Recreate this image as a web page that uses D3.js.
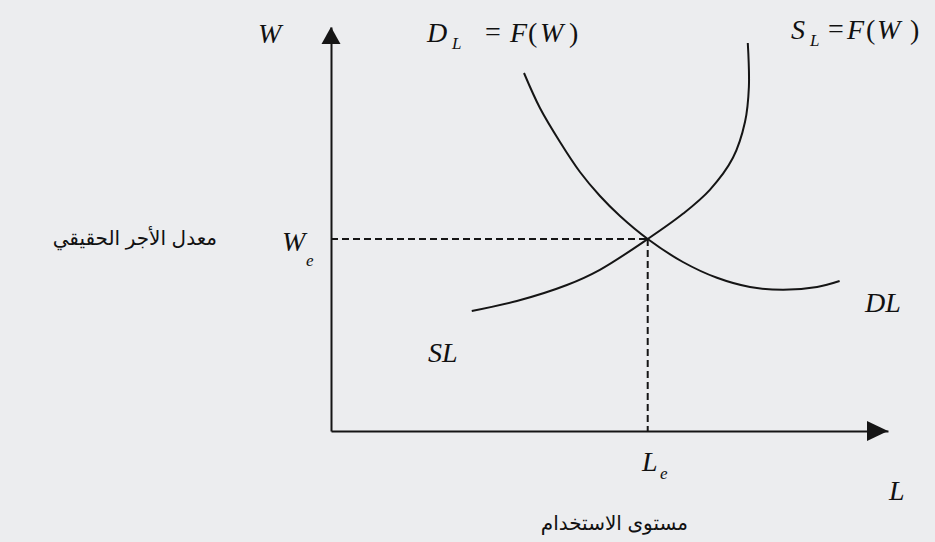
<!DOCTYPE html>
<html>
<head>
<meta charset="utf-8">
<script src="https://cdn.jsdelivr.net/npm/d3@7"></script>
<style>
  html, body { margin: 0; padding: 0; background: #ecedef; }
  svg { display: block; }
  .m { font-family: "Liberation Serif", "Times New Roman", serif; font-style: italic; fill: #111; }
  .u { font-family: "Liberation Serif", "Times New Roman", serif; fill: #111; }
  .ar { font-family: Arial, "DejaVu Sans", sans-serif; fill: #111; }
</style>
</head>
<body>
<svg id="chart" width="935" height="542"></svg>
<script>
// ---- data (L = employment level, W = real wage, arbitrary units) ----
const demandL = [35.1, 38.0, 41.65, 45.28, 48.92, 52.56, 57.6, 64.0, 70.2, 76.2, 82.2, 88.4, 92.5];
const demandW = [89.5, 80.75, 72.25, 64.75, 58.75, 53.75, 48.0, 42.25, 38.3, 36.0, 35.3, 36.0, 37.5];
const supplyL = [25.6, 33.8, 42.9, 48.9, 57.6, 64.0, 68.9, 73.1, 75.3, 76.0, 75.8];
const supplyW = [30.0, 32.5, 36.5, 40.3, 48.0, 54.3, 60.3, 68.3, 77.3, 86.0, 97.0];
const equilibrium = { L: 57.6, W: 48.0 };
const domainL = [0, 101.3];
const domainW = [0, 101];

const svg = d3.select("#chart");
const x = d3.scaleLinear().domain(domainL).range([331, 888]);
const y = d3.scaleLinear().domain(domainW).range([431, 27]);

// axes (no ticks)
svg.append("g").attr("transform", `translate(0,${y(0)})`)
  .call(d3.axisBottom(x).tickValues([]).tickSizeOuter(0));
svg.append("g").attr("transform", `translate(${x(0)},0)`)
  .call(d3.axisLeft(y).tickValues([]).tickSizeOuter(0));
svg.selectAll(".domain").attr("stroke", "#151515").attr("stroke-width", 2);

// arrowheads
const xe = x(domainL[1]), ye = y(domainW[1]);
svg.append("path")
  .attr("d", `M${xe},${y(0)} L${xe - 21},${y(0) - 10} L${xe - 21},${y(0) + 10} Z`)
  .attr("fill", "#151515");
svg.append("path")
  .attr("d", `M${x(0)},${ye} L${x(0) - 9.5},${ye + 17} L${x(0) + 9.5},${ye + 17} Z`)
  .attr("fill", "#151515");

// dashed guides
svg.append("line")
  .attr("x1", x(0)).attr("y1", y(equilibrium.W))
  .attr("x2", x(equilibrium.L)).attr("y2", y(equilibrium.W))
  .attr("stroke", "#151515").attr("stroke-width", 2).attr("stroke-dasharray", "7,4");
svg.append("line")
  .attr("x1", x(equilibrium.L)).attr("y1", y(equilibrium.W))
  .attr("x2", x(equilibrium.L)).attr("y2", y(0))
  .attr("stroke", "#151515").attr("stroke-width", 2).attr("stroke-dasharray", "7,4");

// curves
const line = d3.line().x(d => x(d[0])).y(d => y(d[1])).curve(d3.curveCatmullRom.alpha(0.5));
const demand = demandL.map((v, i) => [v, demandW[i]]);
const supply = supplyL.map((v, i) => [v, supplyW[i]]);
svg.append("path").attr("d", line(demand)).attr("fill", "none")
  .attr("stroke", "#151515").attr("stroke-width", 2);
svg.append("path").attr("d", line(supply)).attr("fill", "none")
  .attr("stroke", "#151515").attr("stroke-width", 2);

// ---- labels ----
function t(cls, txt, px, py, size, anchor) {
  return svg.append("text").attr("class", cls).attr("x", px).attr("y", py)
    .attr("font-size", size).attr("text-anchor", anchor || "start").text(txt);
}
const M = 28, S = 17;
// W axis label
t("m", "W", 258, 43, M);
// D_L = F(W)
t("m", "D", 427, 42, M);
t("m", "L", 452, 49, S);
t("u", "=", 485, 41, M);
t("m", "F", 510, 42, M);
t("u", "(", 528, 42, M);
t("m", "W", 540, 42, M);
t("u", ")", 569, 42, M);
// S_L = F(W)
t("m", "S", 791, 39, M);
t("m", "L", 810, 46, S);
t("u", "=", 828, 38, M);
t("m", "F", 847, 39, M);
t("u", "(", 866, 39, M);
t("m", "W", 877, 39, M);
t("u", ")", 910, 39, M);
// W_e
t("m", "W", 282, 251, M);
t("m", "e", 306, 266, S);
// curve labels
t("m", "SL", 428, 362, M);
t("m", "DL", 865, 312, M);
// L_e and L
t("m", "L", 642, 471, M);
t("m", "e", 660, 479, S);
t("m", "L", 889, 500, M);
// Arabic axis titles
t("ar", "معدل الأجر الحقيقي", 217, 245, 20).attr("direction", "rtl");
t("ar", "مستوى الاستخدام", 688, 530, 20).attr("direction", "rtl");
</script>
</body>
</html>
